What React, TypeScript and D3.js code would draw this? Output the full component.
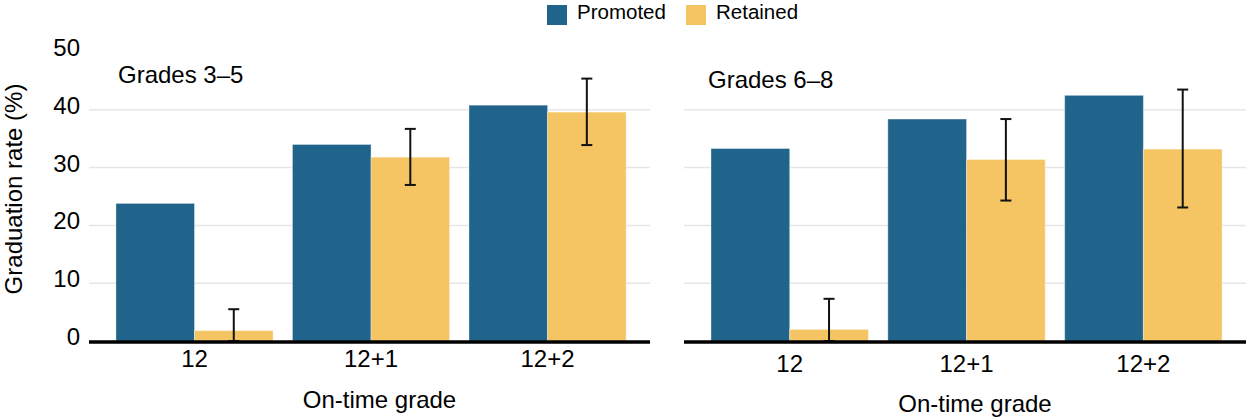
import React from "react";
import * as d3 from "d3";

const grades = ["12", "12+1", "12+2"];
const seriesNames = ["Promoted", "Retained"];
const colors = ["#21648B", "#F4C562"];

const promoted35 = [23.8, 34.0, 40.8];
const retained35 = [1.8, 31.8, 39.6];
const retained35Low = [0, 27.0, 33.9];
const retained35High = [5.5, 36.7, 45.4];

const promoted68 = [33.3, 38.4, 42.5];
const retained68 = [2.0, 31.4, 33.2];
const retained68Low = [0, 24.3, 23.1];
const retained68High = [7.3, 38.4, 43.5];

const yTicks = [0, 10, 20, 30, 40, 50];
const gridTicks = [10, 20, 30, 40];

const W = 1246;
const H = 418;
const FONT = "'Liberation Sans', Arial, Helvetica, sans-serif";

const y = d3.scaleLinear().domain([0, 50]).range([341, 52]);

type PanelProps = {
  x0: number;
  x1: number;
  title: string;
  titleX: number;
  titleY: number;
  labelDy: number;
  promoted: number[];
  retained: number[];
  low: number[];
  high: number[];
};

function Panel(p: PanelProps) {
  const x = d3
    .scaleBand<string>()
    .domain(grades)
    .range([p.x0, p.x1])
    .paddingInner(0.11)
    .paddingOuter(0.144)
    .align(0.53);
  const xs = d3
    .scaleBand<string>()
    .domain(seriesNames)
    .range([0, x.bandwidth()])
    .padding(0);
  const vals = [p.promoted, p.retained];
  const capW = 11;
  return (
    <g>
      {gridTicks.map((t) => (
        <line
          key={t}
          x1={p.x0}
          x2={p.x1}
          y1={y(t)}
          y2={y(t)}
          stroke="#E6E6E6"
          strokeWidth={1.5}
        />
      ))}
      {grades.map((g, i) => (
        <g key={g} transform={`translate(${x(g)},0)`}>
          {seriesNames.map((s, j) => (
            <rect
              key={s}
              x={xs(s)}
              y={y(vals[j][i])}
              width={xs.bandwidth()}
              height={y(0) - y(vals[j][i])}
              fill={colors[j]}
              stroke="rgba(255,255,255,0.35)"
              strokeWidth={1}
            />
          ))}
        </g>
      ))}
      {grades.map((g, i) => {
        const cx = (x(g) as number) + (xs("Retained") as number) + xs.bandwidth() / 2;
        return (
          <g key={"e" + g} stroke="#111" strokeWidth={2}>
            <line x1={cx} x2={cx} y1={y(p.high[i])} y2={y(p.low[i])} />
            <line x1={cx - capW / 2} x2={cx + capW / 2} y1={y(p.high[i])} y2={y(p.high[i])} />
            <line x1={cx - capW / 2} x2={cx + capW / 2} y1={y(p.low[i])} y2={y(p.low[i])} />
          </g>
        );
      })}
      <line x1={p.x0} x2={p.x1} y1={342} y2={342} stroke="#000" strokeWidth={3.5} />
      {grades.map((g) => (
        <text
          key={"t" + g}
          x={(x(g) as number) + x.bandwidth() / 2}
          y={367 + p.labelDy}
          textAnchor="middle"
          fontSize={24}
          fill="#000"
        >
          {g}
        </text>
      ))}
      <text
        x={(p.x0 + p.x1) / 2 + 10}
        y={408 + p.labelDy * 0.8}
        textAnchor="middle"
        fontSize={24}
        fill="#000"
      >
        On-time grade
      </text>
      <text x={p.titleX} y={p.titleY} fontSize={24} fill="#000">
        {p.title}
      </text>
    </g>
  );
}

export default function App() {
  return (
    <svg
      width={W}
      height={H}
      style={{ position: "absolute", left: 0, top: 0, background: "#fff" }}
      fontFamily={FONT}
    >
      <rect x={0} y={0} width={W} height={H} fill="#fff" />
      {/* Legend */}
      <rect x={547} y={5} width={20} height={20} fill={colors[0]} />
      <text x={577} y={18.5} fontSize={20.5} fill="#000">
        {seriesNames[0]}
      </text>
      <rect x={686} y={5} width={20} height={20} fill={colors[1]} />
      <text x={716} y={18.5} fontSize={20.5} fill="#000">
        {seriesNames[1]}
      </text>

      {/* Y axis labels */}
      {yTicks.map((t) => (
        <text key={t} x={80} y={y(t) + 4} textAnchor="end" fontSize={24} fill="#000">
          {t}
        </text>
      ))}
      <text
        transform={`translate(22,189) rotate(-90)`}
        textAnchor="middle"
        fontSize={24}
        fill="#000"
      >
        Graduation rate (%)
      </text>

      <Panel
        x0={89}
        x1={650}
        title="Grades 3–5"
        titleX={118}
        titleY={83}
        labelDy={0}
        promoted={promoted35}
        retained={retained35}
        low={retained35Low}
        high={retained35High}
      />
      <Panel
        x0={684}
        x1={1246}
        title="Grades 6–8"
        titleX={708}
        titleY={88}
        labelDy={5}
        promoted={promoted68}
        retained={retained68}
        low={retained68Low}
        high={retained68High}
      />
    </svg>
  );
}
